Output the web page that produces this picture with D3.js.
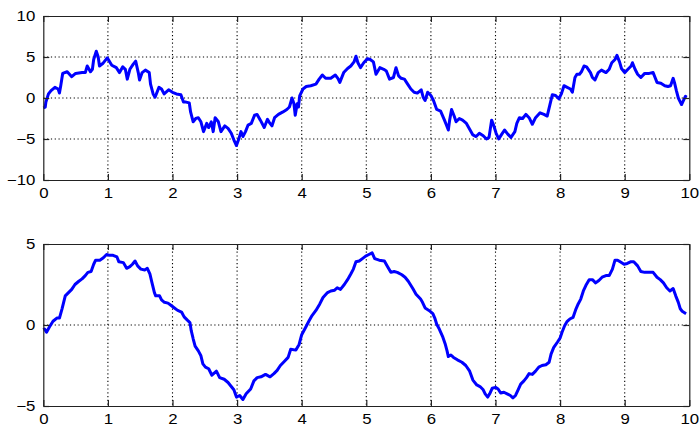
<!DOCTYPE html>
<html>
<head>
<meta charset="utf-8">
<script src="https://cdn.jsdelivr.net/npm/d3@7"></script>
<style>
  html, body { margin: 0; padding: 0; background: #fff; }
  svg { display: block; }
  .tick text { font-family: "Liberation Sans", Arial, sans-serif; font-size: 14px; fill: #000;
    transform-box: fill-box; }
  .xax .tick text { transform-origin: center center; transform: scaleX(1.2); }
  .yax .tick text { transform-origin: right center; transform: scaleX(1.2); }
</style>
</head>
<body>
<svg id="chart" width="700" height="426"></svg>
<script>
// ---- data ----
const xTicks = [0, 1, 2, 3, 4, 5, 6, 7, 8, 9, 10];
const topYTicks = [-10, -5, 0, 5, 10];
const botYTicks = [-5, 0, 5];

const topX = [0.00,0.03,0.04,0.08,0.12,0.18,0.23,0.25,0.27,0.30,0.37,0.44,0.50,0.60,0.65,0.68,0.73,0.76,0.78,0.82,
  0.85,0.87,0.92,0.99,1.06,1.13,1.18,1.23,1.27,1.30,1.34,1.39,1.43,1.47,1.49,1.53,1.58,1.64,1.66,1.70,
  1.73,1.79,1.83,1.87,1.94,2.00,2.06,2.13,2.17,2.21,2.26,2.28,2.32,2.36,2.40,2.44,2.48,2.53,2.56,2.60,
  2.63,2.66,2.71,2.75,2.81,2.86,2.91,2.96,2.99,3.03,3.06,3.09,3.13,3.17,3.22,3.27,3.31,3.36,3.42,3.47,
  3.50,3.54,3.58,3.64,3.71,3.77,3.81,3.85,3.88,3.90,3.93,3.95,3.97,4.02,4.07,4.14,4.22,4.27,4.32,4.37,
  4.45,4.52,4.56,4.59,4.65,4.71,4.76,4.81,4.84,4.87,4.91,4.96,5.02,5.06,5.11,5.15,5.21,5.27,5.31,5.36,
  5.42,5.46,5.50,5.54,5.59,5.64,5.69,5.74,5.79,5.85,5.88,5.91,5.95,6.00,6.04,6.09,6.15,6.21,6.24,6.27,
  6.29,6.32,6.36,6.39,6.44,6.49,6.55,6.60,6.65,6.70,6.75,6.81,6.86,6.90,6.94,6.97,7.01,7.05,7.09,7.14,
  7.19,7.24,7.30,7.33,7.37,7.42,7.47,7.52,7.57,7.62,7.69,7.75,7.80,7.84,7.88,7.93,7.98,8.02,8.06,8.11,
  8.16,8.19,8.23,8.26,8.30,8.33,8.37,8.41,8.47,8.50,8.54,8.59,8.64,8.71,8.76,8.80,8.85,8.88,8.92,8.95,
  9.00,9.05,9.10,9.12,9.16,9.20,9.25,9.31,9.38,9.44,9.47,9.50,9.56,9.62,9.67,9.71,9.75,9.77,9.80,9.83,
  9.88,9.91,9.94,9.96];
const topY = [-1.2,-1.1,-0.5,0.5,0.9,1.3,1.1,0.6,1.5,3.0,3.2,2.6,3.0,3.1,3.1,3.9,3.2,3.5,4.7,5.7,
  5.0,3.9,4.2,4.9,4.0,3.7,3.1,3.8,3.5,2.3,3.5,4.1,4.5,3.1,2.2,3.1,3.4,3.1,1.7,0.5,
  0.1,1.3,1.1,0.5,1.0,0.7,0.5,0.4,-0.5,-0.5,-0.6,-1.7,-2.9,-2.5,-2.4,-2.9,-4.1,-3.1,-3.6,-2.9,
  -4.1,-2.4,-2.9,-4.1,-3.4,-3.7,-4.3,-5.3,-5.8,-4.9,-4.1,-4.7,-4.1,-3.3,-3.1,-2.1,-2.0,-2.7,-3.6,-2.6,
  -3.0,-3.4,-2.4,-2.0,-1.7,-1.4,-1.1,0.0,-0.7,-2.1,-0.7,-1.1,0.3,1.1,1.4,1.5,1.7,2.3,2.8,2.4,
  2.4,2.8,2.4,1.9,3.1,3.6,3.9,4.4,5.1,4.3,3.7,4.3,4.8,4.7,4.4,2.9,3.7,3.5,3.3,2.3,
  2.5,3.7,2.7,2.4,2.3,1.7,1.1,0.7,0.6,1.0,0.1,-0.3,0.7,0.3,-0.3,-1.4,-1.6,-2.7,-3.3,-3.9,
  -2.7,-1.4,-2.2,-2.9,-2.5,-2.7,-3.1,-3.8,-4.5,-4.7,-4.3,-4.6,-5.0,-4.8,-2.7,-3.3,-4.3,-5.0,-4.5,-3.9,
  -4.4,-4.8,-4.1,-3.1,-2.4,-2.5,-2.0,-2.4,-3.2,-2.4,-1.8,-2.0,-2.2,-0.9,0.4,0.3,-0.1,0.5,1.5,1.3,
  1.1,0.7,2.5,2.9,2.9,3.2,3.9,3.8,3.1,2.5,2.2,3.1,3.4,3.1,3.5,4.3,4.7,5.2,4.4,3.6,
  3.1,3.5,3.9,4.3,3.5,2.9,2.5,3.0,3.0,3.1,2.5,1.9,1.8,1.5,1.4,1.5,2.4,1.9,0.9,0.0,
  -0.8,-0.3,0.2,0.1];

const botX = [0.00,0.02,0.05,0.09,0.15,0.21,0.25,0.29,0.34,0.39,0.44,0.49,0.55,0.60,0.65,0.69,0.74,0.78,0.81,0.875,
  0.93,0.98,1.03,1.08,1.14,1.17,1.24,1.29,1.34,1.38,1.42,1.46,1.51,1.57,1.61,1.65,1.68,1.72,1.74,1.80,
  1.83,1.875,1.93,1.98,2.03,2.08,2.14,2.18,2.23,2.27,2.29,2.32,2.35,2.40,2.44,2.47,2.51,2.56,2.61,2.68,
  2.73,2.80,2.86,2.90,2.95,2.99,3.04,3.09,3.14,3.21,3.26,3.31,3.37,3.44,3.51,3.57,3.62,3.67,3.73,3.79,
  3.83,3.91,3.96,4.00,4.06,4.11,4.16,4.22,4.28,4.33,4.40,4.45,4.51,4.55,4.60,4.66,4.71,4.76,4.80,4.84,
  4.89,4.94,4.99,5.04,5.09,5.13,5.20,5.28,5.33,5.38,5.43,5.48,5.55,5.60,5.65,5.72,5.77,5.84,5.87,5.91,
  5.97,6.03,6.06,6.09,6.13,6.18,6.22,6.25,6.27,6.31,6.35,6.41,6.48,6.54,6.60,6.65,6.71,6.76,6.81,6.84,
  6.88,6.91,6.95,7.00,7.04,7.08,7.13,7.18,7.23,7.27,7.31,7.35,7.39,7.44,7.48,7.52,7.57,7.62,7.67,7.72,
  7.78,7.83,7.86,7.90,7.96,8.00,8.03,8.07,8.11,8.15,8.20,8.24,8.28,8.32,8.36,8.40,8.45,8.50,8.55,8.60,
  8.65,8.71,8.76,8.81,8.85,8.89,8.93,8.99,9.04,9.09,9.14,9.20,9.25,9.31,9.38,9.44,9.50,9.55,9.60,9.65,
  9.70,9.75,9.79,9.83,9.86,9.89,9.95];
const botY = [-0.3,-0.25,-0.45,-0.15,0.23,0.43,0.43,1.0,1.8,2.0,2.2,2.5,2.7,2.85,3.05,3.25,3.3,3.75,4.0,4.0,
  4.15,4.35,4.3,4.3,4.2,3.9,3.85,3.5,3.6,3.75,3.95,3.65,3.45,3.4,3.5,3.15,2.65,2.0,1.8,1.8,
  1.55,1.4,1.35,1.2,1.05,0.9,0.8,0.5,0.3,0.15,-0.35,-0.85,-1.3,-1.6,-1.9,-2.4,-2.6,-2.7,-3.1,-2.85,
  -3.25,-3.35,-3.55,-3.75,-4.0,-4.45,-4.35,-4.6,-4.25,-3.95,-3.45,-3.25,-3.2,-3.05,-3.2,-3.0,-2.8,-2.5,-2.25,-2.0,
  -1.5,-1.55,-1.2,-0.6,-0.15,0.23,0.58,0.9,1.3,1.7,2.0,2.1,2.15,2.3,2.2,2.5,2.8,3.15,3.45,3.9,
  3.95,4.1,4.25,4.35,4.45,4.1,4.0,3.95,3.6,3.25,3.3,3.25,3.1,2.95,2.7,2.25,1.9,1.6,1.4,1.05,
  0.9,0.7,0.43,0.05,-0.25,-0.7,-1.15,-1.6,-1.95,-1.85,-2.0,-2.15,-2.3,-2.5,-2.85,-3.4,-3.7,-3.8,-4.0,-4.25,
  -4.45,-4.25,-3.9,-3.85,-3.95,-4.2,-4.15,-4.25,-4.35,-4.5,-4.35,-4.0,-3.65,-3.45,-3.25,-3.0,-3.05,-2.85,-2.6,-2.5,
  -2.45,-2.3,-1.8,-1.4,-1.05,-0.8,-0.45,-0.05,0.23,0.37,0.47,0.93,1.3,1.6,2.1,2.45,2.8,2.8,2.6,2.75,
  2.95,3.05,3.05,3.45,4.0,4.0,3.9,3.75,3.8,3.9,3.9,3.65,3.3,3.25,3.25,3.25,2.95,2.8,2.6,2.3,
  2.1,2.25,1.8,1.4,1.0,0.85,0.7];

// ---- drawing ----
const svg = d3.select("#chart");
svg.append("rect").attr("width", 700).attr("height", 426).attr("fill", "#fff");

const x = d3.scaleLinear().domain([0, 10]).range([43.3, 689.3]);

function panel(yDomain, yRange, yTicks, xs, ys) {
  const y = d3.scaleLinear().domain(yDomain).range(yRange);
  const g = svg.append("g");
  const [y0, y1] = yRange; // bottom, top

  // grid
  const grid = g.append("g")
    .attr("stroke", "#000").attr("stroke-width", 1.1)
    .attr("stroke-dasharray", "1.2,2.6").attr("fill", "none");
  grid.selectAll("line.v").data(xTicks.slice(1, -1)).join("line").attr("class", "v")
    .attr("x1", d => x(d)).attr("x2", d => x(d)).attr("y1", y1).attr("y2", y0);
  grid.selectAll("line.h").data(yTicks.slice(1, -1)).join("line").attr("class", "h")
    .attr("x1", x.range()[0]).attr("x2", x.range()[1]).attr("y1", d => y(d)).attr("y2", d => y(d));

  // data line
  const pts = xs.map((v, i) => [v, ys[i]]);
  g.append("path").datum(pts)
    .attr("fill", "none").attr("stroke", "#0000ff").attr("stroke-width", 3)
    .attr("stroke-linejoin", "round")
    .attr("d", d3.line().x(d => x(d[0])).y(d => y(d[1])));

  // axes
  const styleAx = sel => {
    sel.selectAll(".domain").attr("stroke", "#222").attr("stroke-width", 1.2);
    sel.selectAll(".tick line").attr("stroke", "#222").attr("stroke-width", 1.2);
  };
  g.append("g").attr("class", "xax").attr("transform", `translate(0,${y0})`)
    .call(d3.axisBottom(x).tickValues(xTicks).tickFormat(d3.format("d")).tickSizeInner(-6).tickSizeOuter(0).tickPadding(8))
    .call(styleAx);
  g.append("g").attr("transform", `translate(0,${y1})`)
    .call(d3.axisTop(x).tickValues(xTicks).tickFormat("").tickSizeInner(-6).tickSizeOuter(0))
    .call(styleAx);
  g.append("g").attr("class", "yax").attr("transform", `translate(${x.range()[0]},0)`)
    .call(d3.axisLeft(y).tickValues(yTicks).tickFormat(d3.format("d")).tickSizeInner(-6).tickSizeOuter(0).tickPadding(8))
    .call(styleAx);
  g.append("g").attr("transform", `translate(${x.range()[1]},0)`)
    .call(d3.axisRight(y).tickValues(yTicks).tickFormat("").tickSizeInner(-6).tickSizeOuter(0))
    .call(styleAx);
  g.selectAll(".tick text").attr("font-family", null).attr("font-size", null);
  svg.selectAll("g[font-family]").attr("font-family", null).attr("font-size", null);
}

panel([-10, 10], [180, 16], topYTicks, topX, topY);
panel([-5, 5], [406, 244], botYTicks, botX, botY);
</script>
</body>
</html>
